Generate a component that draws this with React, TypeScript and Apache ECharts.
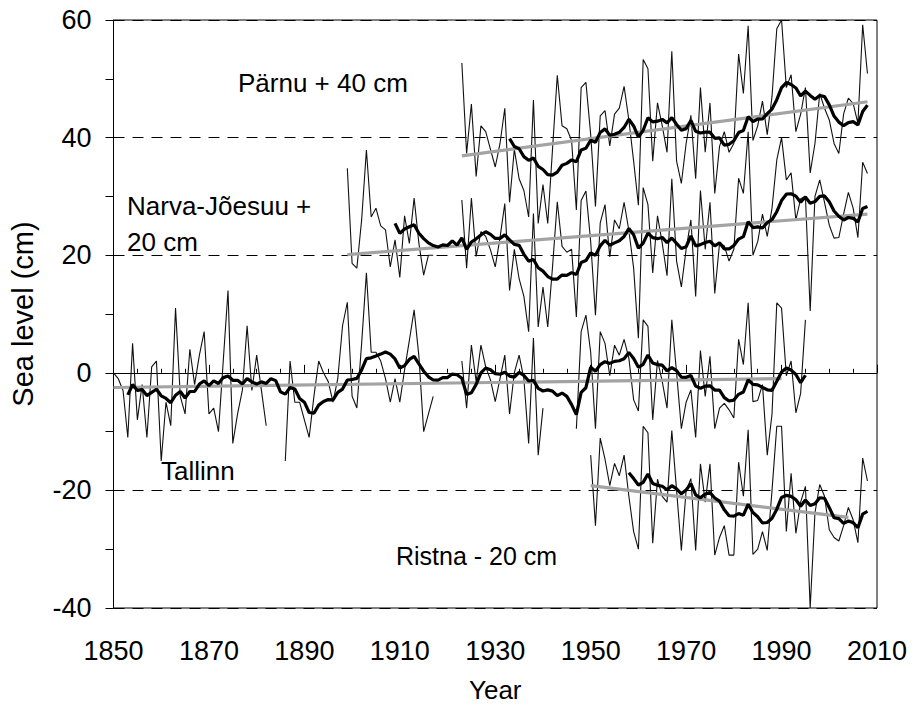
import React, { useEffect, useRef } from "react";
import * as echarts from "echarts";

// Axis ticks
const X_TICKS = [1850, 1870, 1890, 1910, 1930, 1950, 1970, 1990, 2010];
const Y_TICKS = [-40, -20, 0, 20, 40, 60];

// Annual mean sea level (cm), offsets already applied; null = no observations
const PARNU_START = 1923;
const parnu = [
  52.7, 37.3, 45.7, 33.4, 42, 41, 38, 35, 39, 45,
  29, 38, 33, 31, 26.5, 46.4, 25.4, 32, 25.4, 38,
  50.6, 42, 41.5, 39.5, 27.7, 48.5, 49.4, 40.5, 28.3, 43.7,
  44.6, 38.6, 44, 45, 48.7, 43, 36, 28.5, 53.3, 51.7,
  36, 45.9, 42, 37.5, 54.7, 36, 32.2, 39, 43.8, 33,
  48.5, 37.5, 45.9, 30.5, 38.5, 41, 37.5, 39, 54.2, 47.5,
  59, 39.5, 42, 46.2, 40.5, 47, 58.5, 60, 48.5, 50.7,
  41, 44, 48.5, 34, 39, 47.5, 45, 43, 39, 37.3,
  44, 46.7, 45.8, 42.4, 59.2, 50.9,
];

const NARVA_START = 1899;
const narva = [
  34.8, 18.6, 17.8, 26, 37.9, 26.5, 28, 25, 24.3, 18,
  22.6, 16.2, 26.7, 22, 29.7, 22, 16.6, 20, 20, null,
  null, null, null, null, 29.4, 17.8, 29.7, 19.8, 24, 23.2,
  20.9, 18, 23, 28.8, 14, 21, 16, 13, 7, 27.1,
  7.8, 14.6, 7.8, 18, 29.1, 21.5, 20.5, 21, 9.5, 29.3,
  30.9, 22.3, 9.8, 25.5, 28.6, 19.7, 26, 24.5, 29, 24.2,
  17.8, 5.9, 31.5, 28.6, 17, 26.7, 22, 16.5, 33, 19,
  14.6, 21, 26, 13, 31, 21, 29, 13.5, 22, 21.6,
  19, 21, 33.1, 30.5, 41, 20, 22.3, 27, 23.2, 28,
  36.2, 40, 32.8, 34, 26, 29.6, 30, 10.5, 30, 32.8,
  29, 25.1, 22.9, 23, 27, 30.7, 28, 23, 35.8, 33.9,
];

const TALLINN_START = 1850;
const tallinn = [
  0, -1, -3, -11, 5, -8, -2, -11, 1, 2,
  -15, -5, -9, 11, -4, -7, 4, -2, 3, 7,
  -7, -6, -10, 2, 14, -12, -7, -3, 8, -3,
  3, -3, -9, null, null, null, -15, 2, -5, -5,
  -8, -11, -4, 2, 0, -1.5, -5, -1, 8, 12,
  -4, -6, 5, 17, 3.5, 3.5, 2, -1, -5, -1,
  -5, 0.5, 5.5, 10.7, 2.8, -10, -7, -4, null, null,
  null, null, null, 2, -6, 4.7, -1.5, 4.7, 1, -1.2,
  -4.9, -1, 3, -7, 0, 3, -1, -12, 5.9, -14,
  -6, null, null, null, null, null, null, -9.5, 7, 9.8,
  3.5, -9.5, 7, 5, -0.5, 4.7, 3, 5.7, 2.5, -4.6,
  -6.5, 9, 7.9, -8, 2.1, -1.5, -6, 9, 0, -9.5,
  -5, -2.9, -11, 3.8, -4, 2.8, -9.5, -6, -5.2, -6.3,
  -7.7, 5.7, 1.4, 11.9, -4.9, -4.7, -2, -14, -7, 11.9,
  11, -0.5, 2, -6.8, -3.5, 9,
];

const RISTNA_START = 1950;
const ristna = [
  -14, -26, -11.1, -14.7, -19.2, -15.4, -17.5, -14, -21, -27,
  -30, -9.1, -10.2, -29, -18.1, -21, -22, -9.8, -20, -30.2,
  -20, -18, -30.2, -15.5, -22, -15.5, -31, -28, -26, -31,
  -31, -15.2, -21, -9.7, -30.9, -30, -27, -30.2, -20, -9.1,
  -9.1, -27, -17.1, -27.3, -22, -19.3, -40, -23.8, -19, -21,
  -26.7, -28, -28.6, -26, -22.9, -25, -28.9, -14.5, -18.4,
];

// Linear trends: [year, cm] at both ends
const parnuTrend = [[1923, 36.9], [2008, 46.1]];
const narvaTrend = [[1899, 20.1], [2008, 27.0]];
const tallinnTrend = [[1850, -2.5], [1990, -1.0]];
const ristnaTrend = [[1950, -19.2], [2004, -24.6]];

// 11-year running mean, first year drawn for each station
const MEAN_SPAN = 11;
const meanFrom = { parnu: 1933, narva: 1909, tallinn: 1853, ristna: 1958 };

const FONT = "'Liberation Sans', Arial, Helvetica, sans-serif";

function toPairs(start: number, values: (number | null)[]) {
  return values.map((v, i) => [start + i, v === null ? "-" : v]);
}

function runningMean(start: number, values: (number | null)[], from: number) {
  const out: number[][] = [];
  values.forEach((_, i) => {
    const year = start + i;
    if (year < from) return;
    const win = values
      .slice(Math.max(0, i - MEAN_SPAN + 1), i + 1)
      .filter((v): v is number => v !== null);
    if (!win.length) return;
    out.push([year, win.reduce((a, b) => a + b, 0) / win.length]);
  });
  return out;
}

function stationSeries(
  name: string,
  start: number,
  values: (number | null)[],
  trend: number[][],
  from: number
) {
  return [
    {
      name: name + " annual",
      type: "line",
      data: toPairs(start, values),
      showSymbol: false,
      symbol: "none",
      connectNulls: false,
      lineStyle: { width: 1.1, color: "#111" },
      z: 2,
    },
    {
      name: name + " trend",
      type: "line",
      data: trend,
      showSymbol: false,
      symbol: "none",
      lineStyle: { width: 3.2, color: "#a3a3a3" },
      z: 3,
    },
    {
      name: name + " mean",
      type: "line",
      data: runningMean(start, values, from),
      showSymbol: false,
      symbol: "none",
      lineStyle: { width: 3.2, color: "#000" },
      z: 4,
    },
  ];
}

export default function App() {
  const ref = useRef<HTMLDivElement>(null);

  useEffect(() => {
    if (!ref.current) return;
    const chart = echarts.init(ref.current, undefined, { renderer: "svg" });
    const labelStyle = { fontFamily: FONT, fontSize: 26, color: "#000" };
    const note = (text: string, x: number, y: number, size = 26) => ({
      type: "text",
      x,
      y,
      style: {
        text,
        fontFamily: FONT,
        fontSize: size,
        fill: "#000",
        align: "left",
        verticalAlign: "middle",
      },
      z: 10,
    });

    chart.setOption({
      animation: false,
      backgroundColor: "#fff",
      grid: {
        left: 111,
        top: 20,
        right: 37,
        bottom: 100,
        show: true,
        borderColor: "#000",
        borderWidth: 1,
      },
      xAxis: {
        type: "value",
        min: X_TICKS[0],
        max: X_TICKS[X_TICKS.length - 1],
        interval: X_TICKS[1] - X_TICKS[0],
        name: "Year",
        nameLocation: "middle",
        nameGap: 82,
        nameTextStyle: { ...labelStyle, verticalAlign: "middle" },
        axisLine: { show: true, lineStyle: { color: "#000", width: 1 } },
        axisTick: { show: true, inside: true, length: 8, lineStyle: { color: "#000" } },
        minorTick: { show: true, splitNumber: 4, length: 4, lineStyle: { color: "#000" } },
        axisLabel: {
          ...labelStyle,
          fontSize: 27,
          margin: 29,
          formatter: (v: number) => String(v),
        },
        splitLine: { show: false },
      },
      yAxis: {
        type: "value",
        min: Y_TICKS[0],
        max: Y_TICKS[Y_TICKS.length - 1],
        interval: Y_TICKS[1] - Y_TICKS[0],
        name: "Sea level (cm)",
        nameLocation: "middle",
        nameRotate: 90,
        nameGap: 91,
        nameTextStyle: { ...labelStyle, fontSize: 29, verticalAlign: "middle" },
        axisLine: { show: true, lineStyle: { color: "#000", width: 1 } },
        axisTick: { show: true, inside: false, length: 8, lineStyle: { color: "#000" } },
        minorTick: { show: true, splitNumber: 2, length: 8, lineStyle: { color: "#000" } },
        axisLabel: {
          ...labelStyle,
          fontSize: 27,
          margin: 22,
          formatter: (v: number) => String(v),
        },
        splitLine: {
          show: true,
          lineStyle: { color: "#000", width: 1, type: [11, 8] },
        },
      },
      graphic: [
        note("Pärnu + 40 cm", 238, 83),
        note("Narva-Jõesuu +", 127, 206),
        note("20 cm", 127, 242),
        note("Tallinn", 161, 471),
        note("Ristna - 20 cm", 396, 556, 25),
      ],
      series: [
        ...stationSeries("Pärnu", PARNU_START, parnu, parnuTrend, meanFrom.parnu),
        ...stationSeries("Narva-Jõesuu", NARVA_START, narva, narvaTrend, meanFrom.narva),
        ...stationSeries("Tallinn", TALLINN_START, tallinn, tallinnTrend, meanFrom.tallinn),
        ...stationSeries("Ristna", RISTNA_START, ristna, ristnaTrend, meanFrom.ristna),
      ],
    });

    return () => chart.dispose();
  }, []);

  return (
    <div
      ref={ref}
      style={{ position: "fixed", left: 0, top: 0, width: 914, height: 708, background: "#fff" }}
    />
  );
}
